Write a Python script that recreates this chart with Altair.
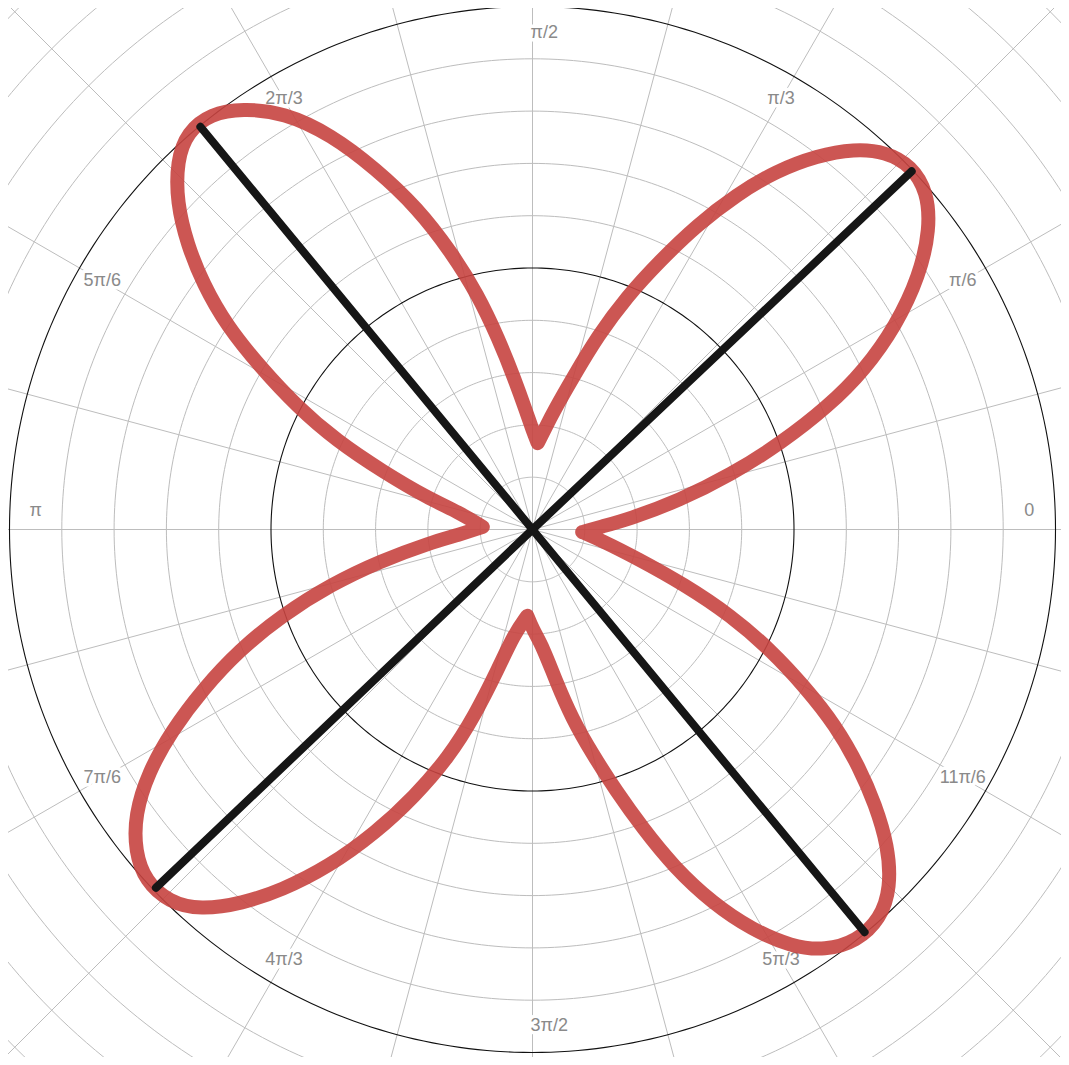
import numpy as np
import pandas as pd
import altair as alt

# ---- traced polar curve (cartesian, data units), in drawing order ----
# the inner "V" turning points are listed three times so the B-spline keeps their corner
curve_points = [
    (0.19, -0.01), (0.19, -0.01),
    (0.26, 0.01), (0.37, 0.04), (0.56, 0.11), (0.76, 0.21),
    (0.95, 0.33), (1.13, 0.47), (1.27, 0.61), (1.39, 0.78), (1.48, 0.97),
    (1.52, 1.15), (1.51, 1.29), (1.45, 1.39), (1.35, 1.445), (1.23, 1.455),
    (1.09, 1.43), (0.93, 1.37), (0.78, 1.28), (0.63, 1.165), (0.49, 1.03),
    (0.36, 0.89), (0.25, 0.74), (0.16, 0.59), (0.08, 0.45), (0.05, 0.39),
    (0.02, 0.33), (0.02, 0.33), (0.02, 0.33),
    (0.00, 0.38), (-0.02, 0.44), (-0.07, 0.58), (-0.13, 0.73),
    (-0.21, 0.90), (-0.31, 1.06), (-0.44, 1.23), (-0.60, 1.38), (-0.77, 1.51),
    (-0.95, 1.595), (-1.11, 1.61), (-1.23, 1.59), (-1.32, 1.52), (-1.36, 1.41),
    (-1.36, 1.25), (-1.32, 1.09), (-1.26, 0.94), (-1.17, 0.78), (-1.04, 0.62),
    (-0.90, 0.47), (-0.75, 0.34), (-0.57, 0.22), (-0.40, 0.12), (-0.28, 0.065),
    (-0.19, 0.01), (-0.19, 0.01), (-0.19, 0.01),
    (-0.28, -0.02), (-0.39, -0.05), (-0.58, -0.12), (-0.77, -0.21),
    (-0.96, -0.33), (-1.12, -0.46), (-1.26, -0.61), (-1.38, -0.77), (-1.47, -0.93),
    (-1.52, -1.09), (-1.52, -1.23), (-1.48, -1.345), (-1.39, -1.425), (-1.27, -1.455),
    (-1.11, -1.43), (-0.96, -1.38), (-0.78, -1.29), (-0.60, -1.16), (-0.45, -1.02),
    (-0.32, -0.87), (-0.22, -0.71), (-0.13, -0.53), (-0.07, -0.40),
    (-0.02, -0.33), (-0.02, -0.33), (-0.02, -0.33),
    (0.00, -0.38), (0.04, -0.45), (0.09, -0.58), (0.15, -0.72), (0.23, -0.86),
    (0.32, -1.00), (0.42, -1.14), (0.54, -1.29), (0.69, -1.43), (0.84, -1.53),
    (0.99, -1.595), (1.12, -1.61), (1.24, -1.575), (1.33, -1.49), (1.37, -1.37),
    (1.36, -1.21), (1.31, -1.05), (1.25, -0.91), (1.16, -0.75), (1.04, -0.60),
    (0.91, -0.46), (0.76, -0.33), (0.58, -0.21), (0.40, -0.11), (0.26, -0.04),
    (0.19, -0.01), (0.19, -0.01),
]

# ---- black segments from origin to petal tips ----
tip_x = [1.45, -1.27, -1.44, 1.27]
tip_y = [1.37, 1.54, -1.37, -1.54]

# ---- polar grid ----
minor_step = 0.2
major_radii = [1.0, 2.0]
max_radius = 3.0
spoke_step_deg = 15
angle_labels = ["0", "π/6", "π/3", "π/2", "2π/3", "5π/6", "π",
                "7π/6", "4π/3", "3π/2", "5π/3", "11π/6"]
label_angles_deg = [0, 30, 60, 90, 120, 150, 180, 210, 240, 270, 300, 330]
label_radius = 1.9

# ---- view geometry ----
W, H = 1053, 1049
PX = 261.5          # pixels per unit
CX, CY = 524.5, 521.5
X_DOM = [-CX / PX, (W - CX) / PX]
Y_DOM = [-(H - CY) / PX, CY / PX]
xs = alt.Scale(domain=X_DOM, nice=False, zero=False)
ys = alt.Scale(domain=Y_DOM, nice=False, zero=False)

# circles
t = np.linspace(0, 2 * np.pi, 361)
rows = []
for r in np.round(np.arange(minor_step, 2.81, minor_step), 1):
    for i, tt in enumerate(t):
        rows.append(dict(r=float(r), i=i, x=r * np.cos(tt), y=r * np.sin(tt),
                         major=bool(float(r) in major_radii)))
circ = pd.DataFrame(rows)

spoke_angles = np.arange(0, 360, spoke_step_deg)
spokes = pd.DataFrame({
    "x": 0.0, "y": 0.0,
    "x2": max_radius * np.cos(np.radians(spoke_angles)),
    "y2": max_radius * np.sin(np.radians(spoke_angles)),
})

lab = pd.DataFrame({"text": angle_labels, "deg": label_angles_deg})
lab["x"] = label_radius * np.cos(np.radians(lab["deg"]))
lab["y"] = label_radius * np.sin(np.radians(lab["deg"]))
lab_diag = lab[lab["deg"] % 90 != 0]
lab_h = lab[lab["deg"].isin([0, 180])]
lab_v = lab[lab["deg"].isin([90, 270])]

curve = pd.DataFrame(curve_points, columns=["x", "y"])
curve["i"] = range(len(curve))

rays = pd.DataFrame({"x": 0.0, "y": 0.0, "x2": tip_x, "y2": tip_y})

X = alt.X("x:Q", scale=xs, axis=None)
Y = alt.Y("y:Q", scale=ys, axis=None)

gray = "#bdbdbd"

spoke_layer = alt.Chart(spokes).mark_rule(color=gray, strokeWidth=1, clip=True).encode(
    x=X, y=Y, x2="x2:Q", y2="y2:Q")

minor_circ = alt.Chart(circ[~circ["major"]]).mark_line(
    color=gray, strokeWidth=1, clip=True).encode(
    x=X, y=Y, detail="r:N", order="i:Q")

major_circ = alt.Chart(circ[circ["major"]]).mark_line(
    color="#111111", strokeWidth=1.1, clip=True).encode(
    x=X, y=Y, detail="r:N", order="i:Q")

FONT = "Liberation Sans"
FS = 18
TXT = "#8a8a8a"


def label_layers(df, **kw):
    halo = alt.Chart(df).mark_text(font=FONT, fontSize=FS, color="white",
                                   stroke="white", strokeWidth=7,
                                   strokeJoin="round", **kw).encode(x=X, y=Y, text="text:N")
    txt = alt.Chart(df).mark_text(font=FONT, fontSize=FS, color=TXT, **kw).encode(
        x=X, y=Y, text="text:N")
    return [halo, txt]


labels = (label_layers(lab_diag, align="center", baseline="middle")
          + label_layers(lab_h, align="center", baseline="middle", dy=-19)
          + label_layers(lab_v, align="left", baseline="middle", dx=-2))

curve_layer = alt.Chart(curve).mark_line(
    color="#c74440", opacity=0.9, strokeWidth=14, strokeCap="round",
    strokeJoin="round", interpolate="basis").encode(x=X, y=Y, order="i:Q")

ray_layer = alt.Chart(rays).mark_rule(
    color="#161616", strokeWidth=8, strokeCap="round").encode(
    x=X, y=Y, x2="x2:Q", y2="y2:Q")

chart = alt.layer(
    spoke_layer, minor_circ, major_circ, *labels, curve_layer, ray_layer
).properties(width=W, height=H, padding=0, background="white").configure_view(stroke=None)

chart.save("out.html", embed_options={"renderer": "svg", "actions": False})
